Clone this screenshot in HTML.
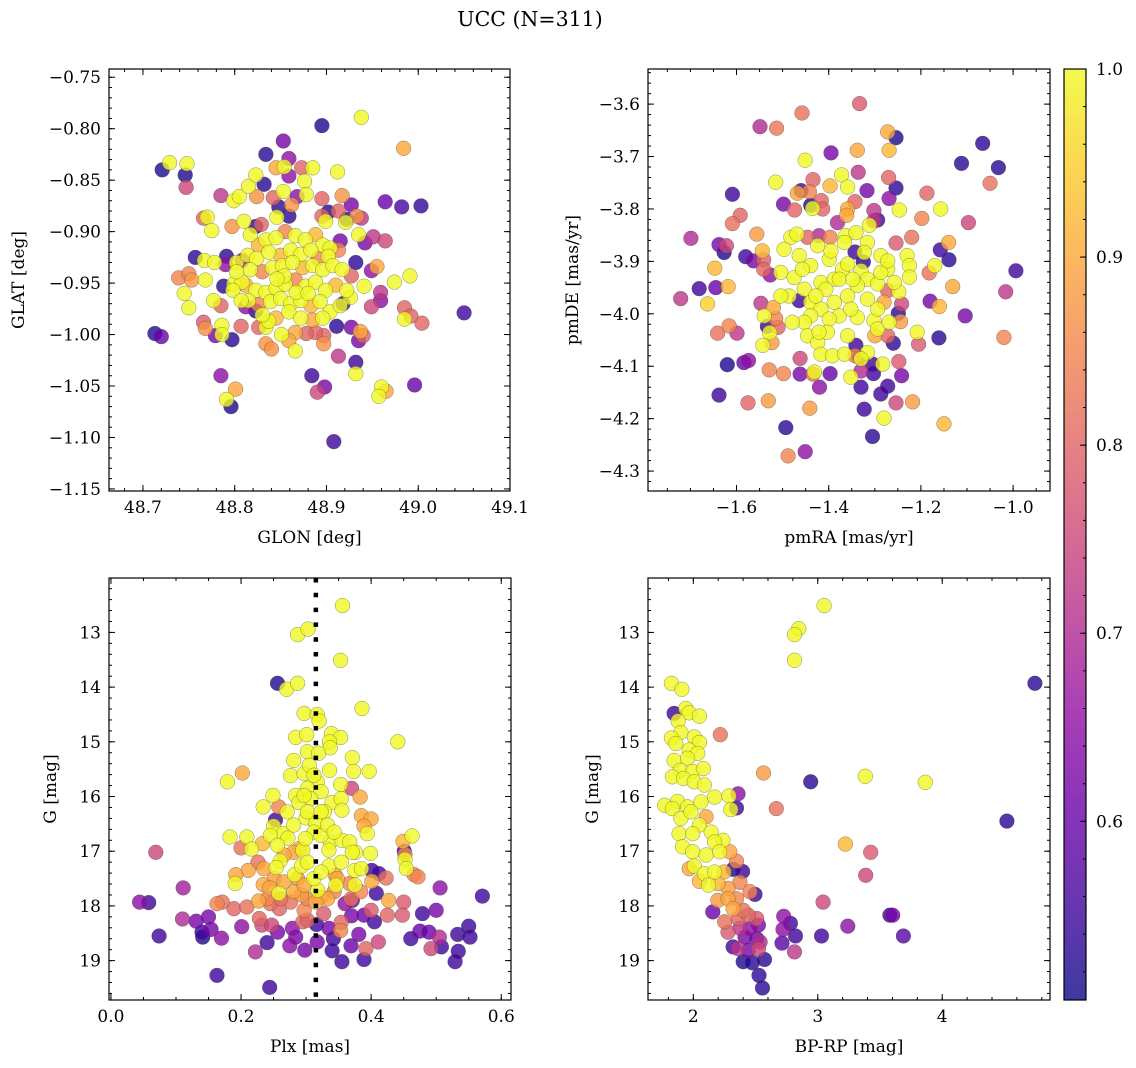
<!DOCTYPE html>
<html><head><meta charset="utf-8"><style>
html,body{margin:0;padding:0;background:#fff;}
svg{display:block;font-family:"DejaVu Serif","Liberation Serif",serif;}
</style></head><body>
<svg id="fig" width="1136" height="1068" viewBox="0 0 1136 1068" xmlns="http://www.w3.org/2000/svg">
<text x="530" y="26" font-size="20.5" text-anchor="middle">UCC (N=311)</text>
</svg>
<script>
// ---- data: [x, y, membership probability] ----
const posPoints = [
[48.938,-0.789,1.0],[48.895,-0.797,0.52],[48.984,-0.819,0.9],[48.729,-0.833,1.0],[48.721,-0.840,0.52],[48.748,-0.834,1.0],[48.746,-0.845,0.52],[48.747,-0.857,0.75],
[48.853,-0.812,0.62],[48.834,-0.825,0.53],[48.859,-0.829,0.65],[48.964,-0.871,0.6],[48.982,-0.876,0.56],[49.003,-0.875,0.54],[48.785,-0.865,0.72],[49.050,-0.979,0.55],
[48.713,-0.999,0.53],[48.720,-1.002,0.6],[48.785,-1.040,0.65],[48.801,-1.053,0.9],[48.791,-1.063,1.0],[48.796,-1.070,0.52],[48.908,-1.104,0.55],[48.884,-1.040,0.55],
[48.898,-1.051,0.62],[48.890,-1.056,0.75],[48.932,-1.027,0.55],[48.932,-1.038,1.0],[48.996,-1.049,0.6],[48.960,-1.051,1.0],[48.965,-1.055,0.9],[48.957,-1.060,1.0],
[48.913,-1.021,0.72],[49.004,-0.989,0.8],[48.985,-0.985,1.0],[48.985,-0.974,0.8],[48.992,-0.982,0.8],[48.991,-0.943,1.0],[48.974,-0.949,1.0],[48.739,-0.945,0.85],
[48.750,-0.941,0.85],[48.753,-0.947,0.88],[48.745,-0.960,1.0],[48.750,-0.974,1.0],[48.768,-0.947,1.0],[48.757,-0.925,0.53],[48.767,-0.928,1.0],[48.778,-0.930,1.0],
[48.766,-0.988,0.78],[48.768,-0.994,0.87],[48.779,-1.001,0.62],[48.786,-0.991,1.0],[48.786,-1.000,1.0],[48.797,-1.005,0.53],[48.807,-0.992,0.8],[48.770,-0.886,1.0],
[48.766,-0.887,0.8],[48.775,-0.899,1.0],[48.799,-0.870,1.0],[48.805,-0.866,1.0],[48.815,-0.856,1.0],[48.823,-0.845,1.0],[48.832,-0.854,0.53],[48.824,-0.866,0.87],
[48.845,-0.838,0.9],[48.854,-0.837,1.0],[48.873,-0.838,0.8],[48.885,-0.838,1.0],[48.876,-0.851,1.0],[48.859,-0.846,0.65],[48.912,-0.842,1.0],[48.917,-0.865,0.87],
[48.927,-0.874,0.62],[48.895,-0.868,0.8],[48.951,-0.905,0.72],[48.964,-0.909,0.75],[48.942,-0.911,0.62],[48.935,-0.903,1.0],[48.915,-0.909,0.62],[48.932,-0.930,0.53],
[48.955,-0.934,0.9],[48.949,-0.938,0.65],[48.941,-0.953,1.0],[48.927,-0.943,0.8],[48.959,-0.959,0.72],[48.959,-0.967,0.65],[48.949,-0.973,0.75],[48.926,-0.964,1.0],
[48.918,-0.970,0.53],[48.851,-1.000,1.0],[48.866,-0.998,0.9],[48.866,-1.016,1.0],[48.859,-1.006,0.9],[48.834,-1.009,0.87],[48.840,-1.014,0.87],[48.897,-1.001,0.8],
[48.897,-1.009,0.87],[48.911,-0.992,0.53],[48.927,-0.993,0.62],[48.937,-0.997,0.9],[48.940,-1.001,0.8],[48.935,-1.006,0.62],[48.888,-0.998,0.8],[48.878,-0.999,0.8],
[48.788,-0.953,0.53],[48.799,-0.951,1.0],[48.808,-0.949,1.0],[48.791,-0.924,0.53],[48.790,-0.932,0.65],[48.802,-0.930,1.0],[48.808,-0.928,0.65],[48.777,-0.967,1.0],
[48.785,-0.972,0.8],[48.812,-0.973,0.65],[48.826,-0.993,0.8],[48.834,-0.993,1.0],[48.837,-0.987,1.0],[48.823,-0.977,0.53],[48.797,-0.895,0.87],[48.810,-0.890,1.0],
[48.823,-0.895,0.53],[48.829,-0.893,0.8],[48.846,-0.886,1.0],[48.859,-0.885,0.53],[48.862,-0.874,0.87],[48.848,-0.876,0.53],[48.842,-0.867,0.8],[48.853,-0.861,1.0],
[48.868,-0.866,0.65],[48.878,-0.864,1.0],[48.895,-0.885,0.8],[48.902,-0.881,0.53],[48.913,-0.880,0.8],[48.899,-0.890,1.0],[48.922,-0.888,0.53],[48.921,-0.891,1.0],
[48.933,-0.885,0.87],[48.938,-0.887,0.72],
[48.817,-0.903,1.0],[48.826,-0.913,0.92],[48.834,-0.908,1.0],[48.845,-0.906,1.0],[48.855,-0.900,0.85],[48.866,-0.904,1.0],[48.877,-0.908,1.0],[48.888,-0.903,0.92],
[48.896,-0.913,1.0],[48.904,-0.916,1.0],[48.913,-0.918,0.85],[48.814,-0.923,1.0],[48.824,-0.926,1.0],[48.837,-0.920,1.0],[48.850,-0.923,0.92],[48.861,-0.918,1.0],
[48.872,-0.922,1.0],[48.883,-0.918,1.0],[48.891,-0.926,0.85],[48.902,-0.924,1.0],[48.817,-0.937,1.0],[48.830,-0.939,0.85],[48.841,-0.935,1.0],[48.852,-0.933,1.0],
[48.863,-0.930,1.0],[48.874,-0.935,0.92],[48.885,-0.933,1.0],[48.896,-0.937,1.0],[48.907,-0.933,1.0],[48.917,-0.937,1.0],[48.812,-0.952,0.92],[48.823,-0.957,1.0],
[48.834,-0.959,1.0],[48.845,-0.955,1.0],[48.855,-0.951,1.0],[48.866,-0.947,0.85],[48.877,-0.953,1.0],[48.888,-0.949,1.0],[48.899,-0.957,1.0],[48.910,-0.952,0.92],
[48.815,-0.967,1.0],[48.826,-0.971,0.85],[48.839,-0.968,1.0],[48.850,-0.965,1.0],[48.861,-0.970,1.0],[48.872,-0.967,1.0],[48.883,-0.972,0.92],[48.893,-0.968,1.0],
[48.904,-0.978,1.0],[48.915,-0.972,1.0],[48.830,-0.981,1.0],[48.845,-0.984,0.92],[48.859,-0.978,1.0],[48.872,-0.984,1.0],[48.885,-0.986,0.9],[48.896,-0.984,1.0],
[48.798,-0.957,1.0],[48.807,-0.967,1.0],[48.802,-0.939,1.0],[48.922,-0.957,1.0],[48.854,-0.943,1.0],[48.867,-0.959,1.0],[48.846,-0.946,1.0],[48.880,-0.960,1.0]
];
const pmPoints = [
[-1.333,-3.599,0.78],[-1.458,-3.617,0.82],[-1.549,-3.643,0.7],[-1.513,-3.646,0.83],[-1.272,-3.653,0.9],[-1.254,-3.664,0.52],[-1.066,-3.675,0.53],[-1.395,-3.693,0.62],
[-1.338,-3.688,0.9],[-1.269,-3.688,0.92],[-1.451,-3.707,1.0],[-1.112,-3.713,0.53],[-1.032,-3.721,0.53],[-1.515,-3.749,1.0],[-1.434,-3.744,0.8],[-1.372,-3.735,1.0],
[-1.336,-3.730,0.72],[-1.397,-3.756,0.92],[-1.359,-3.758,1.0],[-1.270,-3.740,0.8],[-1.254,-3.760,0.53],[-1.317,-3.765,0.62],[-1.269,-3.780,0.65],[-1.050,-3.751,0.82],
[-1.609,-3.772,0.55],[-1.460,-3.765,0.55],[-1.468,-3.770,0.9],[-1.442,-3.767,0.85],[-1.498,-3.791,0.62],[-1.474,-3.802,0.8],[-1.439,-3.793,0.52],[-1.435,-3.799,1.0],
[-1.416,-3.784,0.8],[-1.413,-3.800,0.8],[-1.343,-3.786,0.8],[-1.359,-3.800,0.9],[-1.361,-3.812,0.9],[-1.302,-3.803,0.72],[-1.247,-3.802,1.0],[-1.187,-3.770,0.8],
[-1.157,-3.800,1.0],[-1.198,-3.818,0.85],[-1.097,-3.826,0.75],[-1.592,-3.812,0.8],[-1.609,-3.828,0.82],[-1.699,-3.856,0.7],[-1.638,-3.868,0.62],[-1.622,-3.870,0.75],
[-1.627,-3.883,0.52],[-1.556,-3.848,0.88],[-1.580,-3.891,0.55],[-1.563,-3.899,0.62],[-1.544,-3.880,0.92],[-1.541,-3.897,0.8],[-1.541,-3.915,0.8],[-1.527,-3.926,0.65],
[-1.647,-3.913,0.92],[-1.681,-3.952,0.55],[-1.645,-3.950,0.6],[-1.618,-3.948,0.92],[-1.721,-3.971,0.72],[-1.663,-3.981,0.95],[-1.547,-3.980,0.72],[-1.520,-3.988,0.9],
[-1.540,-4.004,1.0],[-1.515,-4.009,0.85],[-1.533,-4.024,0.55],[-1.510,-4.026,0.8],[-1.528,-4.036,1.0],[-1.543,-4.060,1.0],[-1.523,-4.055,0.88],[-1.616,-4.023,0.85],
[-1.641,-4.037,0.82],[-1.599,-4.037,0.72],[-1.620,-4.097,0.52],[-1.584,-4.093,0.6],[-1.574,-4.089,0.65],[-1.638,-4.155,0.55],[-1.529,-4.107,0.85],[-1.498,-4.114,0.85],
[-1.462,-4.085,0.75],[-1.462,-4.115,0.62],[-1.434,-4.115,0.82],[-1.431,-4.111,1.0],[-1.397,-4.114,0.6],[-1.420,-4.140,0.65],[-1.575,-4.170,0.8],[-1.531,-4.166,0.88],
[-1.441,-4.180,0.88],[-1.493,-4.217,0.53],[-1.451,-4.263,0.65],[-1.488,-4.271,0.85],[-1.305,-4.234,0.53],[-1.280,-4.199,1.0],[-1.323,-4.182,0.55],[-1.330,-4.140,0.55],
[-1.287,-4.153,0.55],[-1.272,-4.138,0.55],[-1.254,-4.170,0.75],[-1.218,-4.168,0.88],[-1.150,-4.210,0.92],[-1.242,-4.118,0.62],[-1.305,-4.096,0.55],[-1.303,-4.114,0.55],
[-1.330,-4.109,0.7],[-1.352,-4.121,1.0],[-1.341,-4.060,0.55],[-1.283,-4.096,1.0],[-1.248,-4.091,0.78],[-1.260,-4.056,0.53],[-1.205,-4.058,0.78],[-1.208,-4.035,1.0],
[-1.161,-4.046,0.53],[-1.020,-4.045,0.85],[-1.104,-4.004,0.62],[-1.180,-3.976,0.62],[-1.160,-3.986,0.92],[-1.131,-3.948,0.9],[-1.016,-3.958,0.72],[-0.994,-3.918,0.55],
[-1.139,-3.897,0.53],[-1.158,-3.878,0.55],[-1.140,-3.864,0.9],[-1.170,-3.908,1.0],[-1.182,-3.922,0.82],[-1.220,-3.854,0.82],[-1.254,-3.865,0.78],[-1.230,-3.889,1.0],
[-1.225,-3.908,1.0],[-1.225,-3.930,1.0],[-1.248,-3.958,1.0],[-1.242,-3.981,0.75],[-1.249,-3.999,0.53],[-1.244,-4.015,0.88],[-1.272,-3.956,0.8],[-1.280,-3.978,0.9],
[-1.302,-4.013,1.0],[-1.294,-4.029,1.0],[-1.272,-4.042,0.8],[-1.300,-4.042,0.9],[-1.343,-3.882,0.55],[-1.325,-3.901,0.53],[-1.312,-3.831,1.0],[-1.302,-3.823,0.72],
[-1.294,-3.821,0.55],[-1.421,-3.851,0.7],[-1.397,-3.854,0.85],[-1.446,-3.854,0.8],[-1.381,-3.826,0.7],[-1.464,-3.975,0.55],[-1.343,-4.080,0.85],[-1.334,-4.083,0.62],
[-1.482,-3.854,1.0],[-1.469,-3.848,1.0],[-1.497,-3.877,1.0],[-1.464,-3.889,1.0],[-1.439,-3.908,1.0],[-1.504,-3.921,1.0],[-1.475,-3.931,1.0],[-1.453,-3.953,1.0],
[-1.486,-3.966,1.0],[-1.439,-3.978,1.0],[-1.417,-3.940,1.0],[-1.399,-3.896,1.0],[-1.388,-3.934,1.0],[-1.370,-3.915,1.0],[-1.359,-3.905,1.0],[-1.363,-3.851,1.0],
[-1.341,-3.845,1.0],[-1.316,-3.864,1.0],[-1.323,-3.883,1.0],[-1.287,-3.889,1.0],[-1.272,-3.915,1.0],[-1.330,-3.918,1.0],[-1.316,-3.934,1.0],[-1.294,-3.943,1.0],
[-1.338,-3.946,1.0],[-1.359,-3.966,1.0],[-1.388,-3.978,1.0],[-1.406,-3.953,1.0],[-1.417,-3.991,1.0],[-1.439,-4.004,1.0],[-1.453,-4.016,1.0],[-1.446,-4.042,1.0],
[-1.424,-4.055,1.0],[-1.417,-4.077,1.0],[-1.392,-4.080,1.0],[-1.366,-4.077,1.0],[-1.359,-4.042,1.0],[-1.377,-4.004,1.0],[-1.399,-4.010,1.0],[-1.403,-4.035,1.0],
[-1.338,-4.007,1.0],[-1.316,-4.074,1.0],[-1.330,-4.086,1.0],[-1.294,-3.991,1.0],[-1.269,-4.016,1.0],[-1.366,-3.864,1.0],[-1.377,-3.934,1.0],[-1.348,-3.934,1.0],
[-1.428,-3.966,1.0],[-1.457,-3.915,1.0],[-1.504,-3.966,1.0],[-1.479,-4.016,1.0],[-1.395,-3.880,1.0],[-1.424,-3.870,1.0],[-1.287,-3.921,1.0],[-1.258,-3.940,1.0],
[-1.272,-3.899,1.0],[-1.352,-3.991,1.0],[-1.316,-3.972,1.0],[-1.421,-4.035,1.0]
];
const plxPoints = [
[0.356,12.51,1],[0.287,13.04,1],[0.303,12.94,1],[0.353,13.51,1],[0.256,13.93,0.52],[0.270,14.04,1],[0.287,13.93,1],[0.386,14.39,1],
[0.297,14.48,1],[0.317,14.50,1],[0.320,14.62,1],[0.284,14.92,1],[0.301,14.87,1],[0.339,14.85,1],[0.353,14.92,1],[0.336,15.00,1],
[0.337,15.11,1],[0.441,15.00,1],[0.302,15.18,1],[0.319,15.21,1],[0.371,15.29,1],[0.281,15.34,1],[0.373,15.54,1],[0.397,15.54,1],
[0.336,15.52,1],[0.276,15.62,1],[0.297,15.58,1],[0.317,15.73,1],[0.302,15.85,1],[0.179,15.73,1],[0.202,15.57,0.9],[0.353,15.78,1],
[0.370,15.85,0.75],[0.383,16.01,0.9],[0.249,15.98,1],[0.284,15.98,1],[0.289,16.11,1],[0.340,16.11,1],[0.354,16.04,1],[0.234,16.19,1],
[0.258,16.19,0.85],[0.271,16.28,1],[0.355,16.25,1],[0.328,16.28,1],[0.300,16.39,1],[0.315,16.49,1],[0.253,16.43,0.55],[0.385,16.35,0.9],
[0.400,16.41,0.9],[0.389,16.54,0.9],[0.394,16.68,1],[0.250,16.54,1],[0.265,16.68,1],[0.272,16.76,1],[0.245,16.71,1],[0.183,16.74,1],
[0.209,16.74,1],[0.233,16.86,0.92],[0.216,16.96,1],[0.200,16.94,0.82],[0.337,16.83,1],[0.355,16.80,1],[0.367,16.83,1],[0.376,17.02,1],
[0.399,17.04,1],[0.371,17.02,1],[0.335,16.98,1],[0.295,16.98,1],[0.290,16.95,0.9],[0.281,17.02,0.9],[0.463,16.72,1],[0.449,16.82,0.92],
[0.451,17.00,0.55],[0.452,17.06,0.85],[0.452,17.15,1],[0.454,17.32,1],[0.466,17.43,0.85],[0.472,17.47,0.85],[0.069,17.02,0.75],[0.260,17.18,1],
[0.254,17.30,1],[0.226,17.20,0.82],[0.211,17.35,0.9],[0.192,17.43,0.9],[0.191,17.59,1],[0.234,17.61,0.9],[0.282,17.43,1],[0.293,17.27,1],
[0.335,17.27,1],[0.345,17.44,0.9],[0.375,17.35,1],[0.385,17.32,1],[0.401,17.35,0.55],[0.412,17.41,0.55],[0.423,17.49,0.82],[0.401,17.55,0.9],
[0.375,17.62,1],[0.367,17.59,0.85],[0.346,17.62,1],[0.318,17.71,1],[0.258,17.77,1],[0.244,17.67,0.9],[0.281,17.74,0.9],[0.293,17.80,0.88],
[0.323,17.84,0.88],[0.333,17.87,0.9],[0.384,17.74,0.85],[0.408,17.77,0.55],[0.427,17.90,0.9],[0.450,17.93,0.78],[0.111,17.67,0.68],[0.044,17.93,0.65],
[0.058,17.94,0.55],[0.163,17.96,0.85],[0.171,17.93,0.82],[0.189,18.05,0.8],[0.209,18.02,0.82],[0.227,17.91,0.9],[0.245,17.96,0.82],[0.259,18.05,0.8],
[0.276,17.93,0.82],[0.297,18.08,0.85],[0.315,17.93,0.9],[0.360,17.96,0.65],[0.371,17.90,0.6],[0.400,18.08,0.78],[0.425,18.17,0.8],[0.448,18.17,0.78],
[0.479,18.14,0.55],[0.500,18.08,0.62],[0.506,17.67,0.65],[0.571,17.82,0.55],[0.110,18.24,0.7],[0.131,18.28,0.62],[0.150,18.20,0.62],[0.140,18.48,0.55],
[0.154,18.43,0.62],[0.074,18.55,0.55],[0.141,18.57,0.52],[0.170,18.59,0.65],[0.201,18.38,0.65],[0.228,18.23,0.8],[0.232,18.35,0.75],[0.247,18.35,0.75],
[0.256,18.48,0.62],[0.279,18.41,0.65],[0.284,18.57,0.62],[0.295,18.29,0.8],[0.302,18.26,0.8],[0.316,18.34,0.55],[0.327,18.14,0.78],[0.335,18.41,0.62],
[0.353,18.45,0.85],[0.354,18.30,0.8],[0.342,18.60,0.55],[0.370,18.18,0.62],[0.389,18.17,0.6],[0.405,18.29,0.55],[0.381,18.52,0.62],[0.411,18.66,0.75],
[0.392,18.78,0.8],[0.369,18.73,0.6],[0.340,18.82,0.55],[0.355,19.02,0.55],[0.389,18.98,0.55],[0.317,18.66,0.62],[0.298,18.81,0.62],[0.275,18.73,0.65],
[0.240,18.67,0.55],[0.222,18.84,0.7],[0.461,18.60,0.55],[0.475,18.46,0.6],[0.489,18.48,0.6],[0.505,18.57,0.7],[0.508,18.75,0.55],[0.492,18.78,0.75],
[0.533,18.52,0.55],[0.550,18.37,0.55],[0.552,18.57,0.55],[0.534,18.83,0.55],[0.529,19.02,0.55],[0.163,19.27,0.55],[0.244,19.49,0.55],
[0.305,15.43,1],[0.312,15.61,1],[0.323,15.91,1],[0.307,16.04,1],[0.297,15.98,1],[0.302,16.28,1],[0.323,16.28,1],[0.312,16.65,1],
[0.299,16.77,1],[0.323,16.71,1],[0.333,16.52,1],[0.343,16.65,1],[0.281,16.52,1],[0.256,16.89,1],[0.266,17.07,0.9],[0.302,17.20,1],
[0.312,17.50,1],[0.323,17.38,1],[0.348,17.50,0.9],[0.354,17.20,1],[0.297,17.62,0.9],[0.266,17.56,0.9],[0.251,17.50,0.88],[0.235,17.32,0.9],
[0.287,17.50,0.88],[0.240,17.87,0.85],[0.261,17.87,0.82],[0.302,17.87,0.85],[0.343,17.74,0.85],[0.369,17.87,0.82]
];
const cmdPoints = [
[3.051,12.51,1],[2.848,12.93,1],[2.813,13.04,1],[2.813,13.51,1],[4.745,13.93,0.53],[1.824,13.93,1],[1.908,14.04,1],[1.846,14.48,0.55],
[1.940,14.39,1],[1.967,14.47,1],[2.049,14.53,1],[1.878,14.62,1],[2.217,14.87,0.82],[2.564,15.57,0.88],[2.943,15.73,0.53],[3.382,15.63,1],
[3.864,15.74,1],[4.520,16.45,0.53],[2.360,15.95,0.65],[2.287,15.99,1],[2.347,16.21,0.55],[2.301,16.24,1],[2.667,16.22,0.82],[2.171,16.01,1],
[1.770,16.16,1],[3.222,16.87,0.92],[3.425,17.02,0.78],[3.385,17.44,0.75],[2.396,17.37,0.55],[2.320,17.33,0.52],[3.043,17.93,0.75],[2.726,18.19,0.65],
[2.780,18.32,0.55],[2.821,18.55,0.55],[2.721,18.43,0.65],[2.713,18.68,0.58],[2.813,18.84,0.72],[3.030,18.55,0.55],[3.241,18.37,0.65],[3.580,18.17,0.55],
[3.602,18.17,0.62],[3.688,18.55,0.58],
[1.900,14.83,1],[2.008,14.91,1],[1.824,14.93,1],[2.049,15.01,1],[1.859,15.03,1],[1.967,15.15,1],[2.035,15.21,1],[1.846,15.34,1],
[1.954,15.30,1],[1.894,15.52,1],[1.995,15.54,1],[2.081,15.49,1],[1.832,15.64,1],[1.921,15.67,1],[2.008,15.73,1],[2.089,15.79,1],
[1.873,16.09,1],[1.954,16.19,1],[1.832,16.22,1],[2.062,16.10,1],[1.900,16.40,1],[1.981,16.28,1],[2.103,16.37,0.9],[2.049,16.52,1],
[1.886,16.68,1],[1.995,16.68,1],[2.144,16.65,1],[2.238,16.80,1],[2.171,16.83,1],[1.913,16.92,1],[1.995,17.01,1],[2.103,17.07,1],
[2.211,17.01,1],[2.293,17.01,0.9],[2.347,17.18,0.85],[1.967,17.32,0.9],[2.008,17.27,1],[2.089,17.41,1],[2.171,17.38,1],[2.247,17.38,0.92],
[2.049,17.55,0.92],[2.122,17.62,1],[2.198,17.59,0.92],[2.279,17.68,0.88],[2.374,17.57,0.85],[2.455,17.74,0.85],[2.496,17.79,0.55],[2.157,18.11,0.6],
[2.198,17.90,0.88],[2.279,17.87,0.9],[2.347,17.87,0.85],[2.401,18.08,0.82],[2.320,18.05,0.9],[2.252,18.29,0.82],[2.360,18.23,0.8],[2.442,18.17,0.8],
[2.509,18.23,0.78],[2.279,18.48,0.78],[2.374,18.41,0.72],[2.455,18.41,0.65],[2.523,18.35,0.62],[2.415,18.57,0.62],[2.509,18.60,0.62],[2.537,18.66,0.7],
[2.320,18.75,0.55],[2.360,18.78,0.72],[2.442,18.81,0.62],[2.523,18.79,0.75],[2.401,19.02,0.52],[2.474,19.04,0.53],[2.572,18.98,0.53],[2.528,19.27,0.53],
[2.556,19.50,0.53]
];
const plxLine = 0.315;
const cbTicks = [0.6, 0.7, 0.8, 0.9, 1.0];
const probMin = 0.505, probMax = 1.0;

const NS = "http://www.w3.org/2000/svg";
const svg = document.getElementById('fig');
const plasma = ["#0d0887","#41049d","#6a00a8","#8f0da4","#b12a90","#cc4778","#e16462","#f2844b","#fca636","#fcce25","#f0f921"];
function hex(c){return [1,3,5].map(i=>parseInt(c.substr(i,2),16));}
function cmap(p){
  let t=Math.max(0,Math.min(1,(p-probMin)/(probMax-probMin)))*10;
  let i=Math.min(9,Math.floor(t)), f=t-i;
  const a=hex(plasma[i]), b=hex(plasma[i+1]);
  return "rgb("+a.map((v,k)=>Math.round(v+(b[k]-v)*f)).join(",")+")";
}
function el(tag, attrs, parent){
  const e=document.createElementNS(NS,tag);
  for(const k in attrs) e.setAttribute(k,attrs[k]);
  (parent||svg).appendChild(e); return e;
}
function fmtNum(v,d){const s=Math.abs(v).toFixed(d); return (v< -1e-9?"\u2212":"")+s;}

function panel(cfg, pts){
  const g=el('g',{});
  
  
  const {x0,x1,y0,y1}=cfg;
  const sx=v=>x0+(v-cfg.xmin)/(cfg.xmax-cfg.xmin)*(x1-x0);
  const sy=v=>y1-(v-cfg.ybot)/(cfg.ytop-cfg.ybot)*(y1-y0);
  const pg=el('g',{},g);
  
  
  const sorted=pts.slice().sort((a,b)=>a[2]-b[2]);
  sorted.forEach(p=>{
    const c=el('circle',{cx:sx(p[0]).toFixed(1),cy:sy(p[1]).toFixed(1),r:7.4,fill:cmap(p[2]),'fill-opacity':0.8,stroke:'#444','stroke-width':0.5,'stroke-opacity':0.6},pg);
    
    
  });
  if(cfg.vline!==undefined){
    const l=el('line',{x1:sx(cfg.vline),x2:sx(cfg.vline),y1:y0,y2:y1,stroke:'#000','stroke-width':4.5,'stroke-dasharray':'4.5 10.3'},g);
    
    
  }
  const fr=el('rect',{x:x0,y:y0,width:x1-x0,height:y1-y0,fill:'none',stroke:'#000','stroke-width':1.2},g);
  
  
  const tg=el('g',{stroke:'#000','stroke-width':1},g);
  function ticks(lo,hi,step){const a=[];const s=Math.ceil(lo/step-1e-6),e=Math.floor(hi/step+1e-6);for(let i=s;i<=e;i++)a.push(+(i*step).toFixed(6));return a;}
  const xlo=Math.min(cfg.xmin,cfg.xmax), xhi=Math.max(cfg.xmin,cfg.xmax);
  const ylo=Math.min(cfg.ybot,cfg.ytop), yhi=Math.max(cfg.ybot,cfg.ytop);
  ticks(xlo,xhi,cfg.xminor).forEach(v=>{const X=sx(v);el('line',{x1:X,x2:X,y1:y1,y2:y1-3},tg);el('line',{x1:X,x2:X,y1:y0,y2:y0+3},tg);});
  ticks(ylo,yhi,cfg.yminor).forEach(v=>{const Y=sy(v);el('line',{x1:x0,x2:x0+3,y1:Y,y2:Y},tg);el('line',{x1:x1,x2:x1-3,y1:Y,y2:Y},tg);});
  ticks(xlo,xhi,cfg.xmajor).forEach(v=>{const X=sx(v);el('line',{x1:X,x2:X,y1:y1,y2:y1-6},tg);el('line',{x1:X,x2:X,y1:y0,y2:y0+6},tg);
    const t=el('text',{x:X,y:y1+22,'font-size':17,'text-anchor':'middle'},g);t.textContent=fmtNum(v,cfg.xdec);
    
    });
  ticks(ylo,yhi,cfg.ymajor).forEach(v=>{const Y=sy(v);el('line',{x1:x0,x2:x0+6,y1:Y,y2:Y},tg);el('line',{x1:x1,x2:x1-6,y1:Y,y2:Y},tg);
    const t=el('text',{x:x0-8,y:Y+6,'font-size':17,'text-anchor':'end'},g);t.textContent=fmtNum(v,cfg.ydec);
    
    });
  const xl=el('text',{x:(x0+x1)/2,y:y1+52,'font-size':17,'text-anchor':'middle'},g);xl.textContent=cfg.xlabel;
  
  
  const yl=el('text',{x:0,y:0,'font-size':17,'text-anchor':'middle',transform:`translate(${cfg.ylx},${(y0+y1)/2}) rotate(-90)`},g);yl.textContent=cfg.ylabel;
  
  
}

panel({name:'glon-glat-panel',x0:109,x1:510,y0:69,y1:491,xmin:48.663,xmax:49.1,ybot:-1.152,ytop:-0.742,xmajor:0.1,xminor:0.02,ymajor:0.05,yminor:0.01,xdec:1,ydec:2,xlabel:'GLON [deg]',ylabel:'GLAT [deg]',ylx:24},posPoints);
panel({name:'proper-motion-panel',x0:648,x1:1050,y0:69,y1:491,xmin:-1.792,xmax:-0.920,ybot:-4.338,ytop:-3.533,xmajor:0.2,xminor:0.05,ymajor:0.1,yminor:0.02,xdec:1,ydec:1,xlabel:'pmRA [mas/yr]',ylabel:'pmDE [mas/yr]',ylx:578},pmPoints);
panel({name:'parallax-g-panel',x0:109,x1:511,y0:578,y1:1000,xmin:-0.003,xmax:0.615,ybot:19.72,ytop:12.005,xmajor:0.2,xminor:0.05,ymajor:1,yminor:0.2,xdec:1,ydec:0,xlabel:'Plx [mas]',ylabel:'G [mag]',ylx:56,vline:plxLine},plxPoints);
panel({name:'cmd-panel',x0:648,x1:1050,y0:578,y1:1000,xmin:1.636,xmax:4.866,ybot:19.72,ytop:12.005,xmajor:1,xminor:0.2,ymajor:1,yminor:0.2,xdec:0,ydec:0,xlabel:'BP-RP [mag]',ylabel:'G [mag]',ylx:598},cmdPoints);

(function(){
  const cx0=1064,cx1=1086,cy0=69,cy1=1000;
  const defs=el('defs',{});
  const lg=el('linearGradient',{id:'cbg',x1:0,y1:1,x2:0,y2:0},defs);
  plasma.forEach((c,i)=>el('stop',{offset:(i/10),'stop-color':c},lg));
  const cb=el('g',{});
  
  
  el('rect',{x:cx0,y:cy0,width:cx1-cx0,height:cy1-cy0,fill:'url(#cbg)','fill-opacity':0.8},cb);
  el('rect',{x:cx0,y:cy0,width:cx1-cx0,height:cy1-cy0,fill:'none',stroke:'#000','stroke-width':1.2},cb);
  const sy=v=>cy1-(v-probMin)/(probMax-probMin)*(cy1-cy0);
  for(let i=26;i<=50;i++){const v=i*0.02; if(v<probMin)continue; const Y=sy(v); el('line',{x1:cx1,x2:cx1-3,y1:Y,y2:Y,stroke:'#000'},cb);}
  cbTicks.forEach(v=>{const Y=sy(v);el('line',{x1:cx1,x2:cx1-6,y1:Y,y2:Y,stroke:'#000'},cb);
    const t=el('text',{x:cx1+10,y:Y+6,'font-size':17},cb);t.textContent=v.toFixed(1);
    
    });
})();
</script>
</body></html>
